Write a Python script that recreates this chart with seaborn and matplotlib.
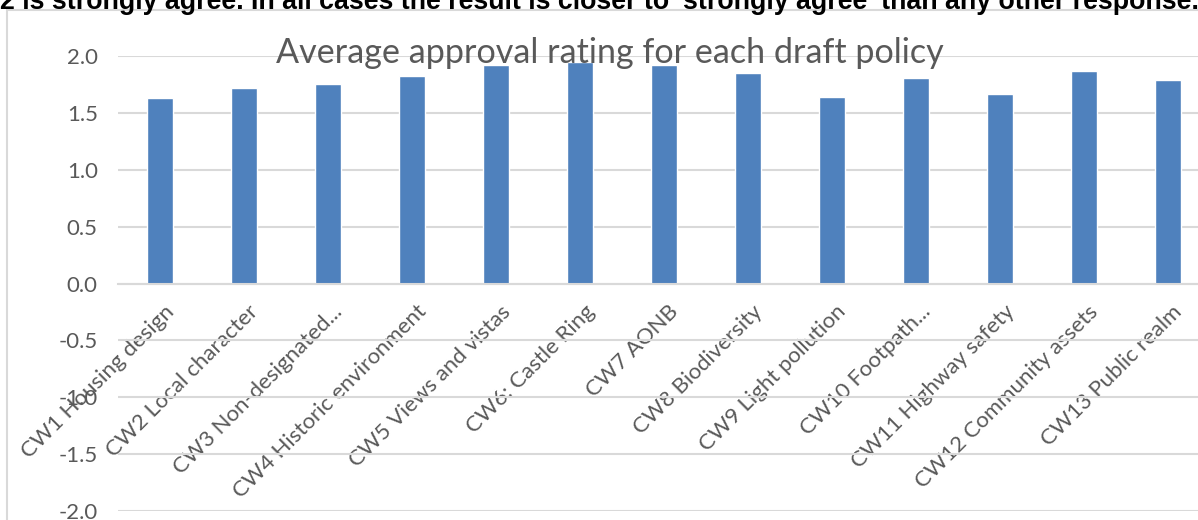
import matplotlib
matplotlib.use("Agg")
import matplotlib.pyplot as plt
import matplotlib.transforms as mtransforms
from matplotlib.patches import Rectangle
import seaborn as sns
import pandas as pd

categories = ["CW1 Housing design", "CW2 Local character", "CW3 Non-designated...",
              "CW4 Historic environment", "CW5 Views and vistas", "CW6: Castle Ring",
              "CW7 AONB", "CW8 Biodiversity", "CW9 Light pollution", "CW10 Footpath...",
              "CW11 Highway safety", "CW12 Community assets", "CW13 Public realm"]
ratings = [1.63, 1.72, 1.75, 1.82, 1.92, 1.95, 1.92, 1.85, 1.64, 1.81, 1.67, 1.87, 1.785]
y_ticks = [-2.0, -1.5, -1.0, -0.5, 0.0, 0.5, 1.0, 1.5, 2.0]
y_tick_labels = ["-2.0", "-1.5", "-1.0", "-0.5", "0.0", "0.5", "1.0", "1.5", "2.0"]
title = "Average approval rating for each draft policy"
note = "2 is strongly agree. In all cases the result is closer to 'strongly agree' than any other response."

W, H = 1198, 520
sns.set_theme(style="white")
plt.rcParams['font.family'] = ['Lato', 'DejaVu Sans']

fig = plt.figure(figsize=(W / 100, H / 100), dpi=100)
fig.patch.set_facecolor("white")

# chart border (partially clipped)
fig.patches.append(Rectangle((7 / W, -0.1), 1.2, 1 - 10 / H + 0.1, transform=fig.transFigure,
                             fill=False, edgecolor="#d9d9d9", linewidth=1.5, zorder=0))

ax = fig.add_axes([118 / W, 9 / H, 1092 / W, 455 / H])
ax.set_facecolor("none")
df = pd.DataFrame({"policy": categories, "rating": ratings})
sns.barplot(data=df, x="policy", y="rating", color="#4f81bd", saturation=1,
            width=0.315, ax=ax, zorder=3)

ax.set_ylim(-2, 2)
ax.set_xlim(-0.5, len(categories) - 0.5)
ax.set_yticks(y_ticks)
ax.set_yticklabels(y_tick_labels)
ax.set_xlabel("")
ax.set_ylabel("")
ax.yaxis.grid(True, color="#d9d9d9", linewidth=1.5, zorder=0)
ax.set_axisbelow(True)
for s in ["top", "right", "left"]:
    ax.spines[s].set_visible(False)
ax.spines["bottom"].set_position(("data", 0))
ax.spines["bottom"].set_color("#d9d9d9")
ax.spines["bottom"].set_linewidth(1.5)
ax.spines["bottom"].set_zorder(4)
ax.tick_params(axis="both", length=0, colors="#595959", labelsize=16)
ax.tick_params(axis="y", pad=14.5)
ax.tick_params(axis="x", pad=13)

ax.set_xticks(range(len(categories)))
ax.set_xticklabels(categories, rotation=45, ha="right", va="top", rotation_mode="anchor")
off = mtransforms.ScaledTranslation(4 / 100, 0, fig.dpi_scale_trans)
for lab in ax.get_xticklabels():
    lab.set_transform(lab.get_transform() + off)

fig.text(610 / W, 1 - 63 / H, title, ha="center", va="baseline", fontsize=24.6, color="#595959")

t = fig.text(0, 1 - 9 / H, note, ha="left", va="baseline", fontsize=13, fontweight="bold",
             color="black", family=["Liberation Sans", "DejaVu Sans"])
fig.canvas.draw()
bb = t.get_window_extent()
t.set_fontsize(13 * 1196 / bb.width)

fig.savefig("out.png", dpi=100)
